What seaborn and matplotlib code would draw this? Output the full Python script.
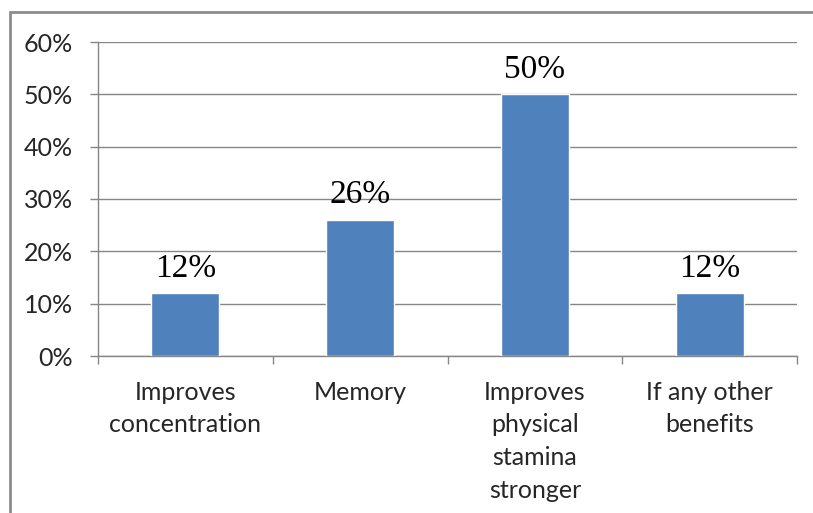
import matplotlib
matplotlib.use("Agg")
import matplotlib.pyplot as plt
import matplotlib.patches as mpatches
import seaborn as sns
import pandas as pd

# Chart data
categories = ["Improves\nconcentration", "Memory", "Improves\nphysical\nstamina\nstronger", "If any other\nbenefits"]
values = [12, 26, 50, 12]
value_labels = ["12%", "26%", "50%", "12%"]
y_ticks = [0, 10, 20, 30, 40, 50, 60]
y_tick_labels = ["0%", "10%", "20%", "30%", "40%", "50%", "60%"]

df = pd.DataFrame({"benefit": categories, "percent": values})

sns.set_style("white")
plt.rcParams["font.family"] = ["Lato", "DejaVu Sans"]

W, H = 813, 513
fig = plt.figure(figsize=(W / 100, H / 100), dpi=100)
ax = fig.add_axes([98 / W, 1 - 356 / H, (797 - 98) / W, (356 - 42) / H])

# outer chart frame, cut off at right and bottom like the reference
frame = mpatches.Rectangle((10 / W, -0.2), 1.2, 1 - 12 / H + 0.2,
                           transform=fig.transFigure, fill=False,
                           edgecolor="#8c8c8c", linewidth=2, zorder=0)
fig.patches.append(frame)

sns.barplot(data=df, x="benefit", y="percent", color="#4F81BD",
            saturation=1, width=0.39, ax=ax, zorder=3)

ax.set_ylim(0, 60)
ax.set_xlim(-0.5, len(categories) - 0.5)
ax.set_yticks(y_ticks)
ax.set_yticklabels(y_tick_labels)
ax.yaxis.grid(True, color="#868686", linewidth=1)
ax.set_axisbelow(True)

# category boundaries carry the tick marks, labels sit in between
ax.set_xticks([i - 0.5 for i in range(len(categories) + 1)])
ax.set_xticklabels([""] * (len(categories) + 1))
ax.set_xticks(range(len(categories)), minor=True)
ax.set_xticklabels(categories, minor=True, fontsize=18, color="#262626",
                   linespacing=1.5)
ax.tick_params(axis="x", which="minor", length=0, pad=18)
ax.tick_params(axis="x", which="major", length=6, width=1, color="#868686",
               direction="out", bottom=True)
ax.tick_params(axis="y", length=6, width=1, color="#868686", direction="out",
               left=True, labelsize=18, labelcolor="#262626", pad=12)

ax.set_xlabel("")
ax.set_ylabel("")
for side in ["top", "right"]:
    ax.spines[side].set_visible(False)
for side in ["left", "bottom"]:
    ax.spines[side].set_color("#868686")
    ax.spines[side].set_linewidth(1)

for i, (v, lab) in enumerate(zip(values, value_labels)):
    ax.annotate(lab, (i, v), xytext=(0, 12), textcoords="offset points",
                ha="center", va="baseline", fontsize=24,
                family=["Liberation Serif", "DejaVu Serif"], color="black")

fig.savefig("out.png", dpi=100, facecolor="white")
